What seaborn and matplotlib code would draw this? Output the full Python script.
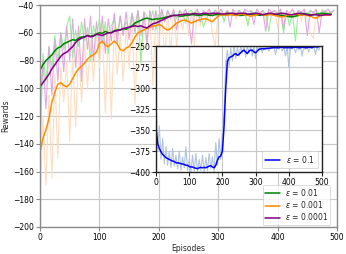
import numpy as np
import pandas as pd
import matplotlib
matplotlib.use("Agg")
import matplotlib.pyplot as plt
import seaborn as sns

# ---------------- data ----------------
STEP = 5  # episode spacing of the tabulated values

green_smooth = [-87, -83, -80, -78, -76, -73, -71, -70, -68, -67, -66, -65, -65.5, -64, -63, -63, -62, -62.5, -62, -61,
                -60, -60.5, -59, -60, -60, -58.5, -58, -58, -57, -57.5, -56, -55, -53, -52, -51, -50, -49.5, -50, -50.5, -50,
                -50, -49.5, -49, -48.5, -48, -47.5, -47.5, -48, -48, -47.5, -47.5, -47, -47, -47.5, -47.5, -47, -47, -47.5, -47.5, -47,
                -47, -47, -47, -46.5, -46.5, -47, -47, -47.5, -47.5, -47, -47, -46.5, -46.5, -47, -47.5, -47, -47, -46.5, -46.5, -47,
                -47, -47.5, -47.5, -48, -48.5, -48.5, -48, -47.5, -47, -46.5, -46.5, -47, -47, -46.5, -46.5, -46, -46, -46.5, -46.5]

purple_smooth = [-99, -96, -93, -90, -86, -83, -80, -77, -75, -74, -72, -70, -67, -65, -64, -63, -62, -63, -62.5, -61,
                 -61.5, -62, -61, -60, -60, -59, -58.5, -58, -57, -56.5, -56, -55.5, -55, -55.5, -55, -56, -56.5, -55, -53.5, -53,
                 -52, -51, -50, -49, -48, -47.5, -47.5, -47, -47, -46.5, -46.5, -46.5, -46, -46.5, -46.5, -46, -46, -46.5, -46, -46,
                 -46, -46.5, -46.5, -46, -46, -46, -46.5, -46, -46, -46, -46.5, -46.5, -46, -46, -46.5, -47, -46.5, -46, -46, -46.5,
                 -46.5, -46, -46, -46.5, -47, -47, -46.5, -46, -46, -46.5, -47, -47.5, -47, -47, -47.5, -47.5, -47, -47, -47]

orange_smooth = [-146, -136, -130, -122, -110, -103, -97, -96, -98, -99, -97, -93, -89, -86, -84, -82, -79, -77, -76, -74,
                 -68, -66, -69, -70, -68, -66, -68, -72, -73, -71, -70, -67, -63, -60, -59, -58, -57, -56, -55, -55,
                 -54, -55, -57, -58, -57, -55, -53, -52, -51, -51, -52, -53, -52, -51, -50.5, -50, -50, -51, -52, -50,
                 -48, -47, -47, -47.5, -47, -47, -47.5, -47, -46.5, -47, -47.5, -48, -47.5, -47, -46.5, -47, -47.5, -47, -47, -47.5,
                 -48, -48.5, -48.5, -47.5, -47, -47, -46.5, -47, -47.5, -47, -47.5, -48, -49, -49.5, -48, -47, -47, -47.5, -47]

green_raw = [-150, -75, -95, -70, -85, -62, -80, -60, -72, -55, -48, -78, -58, -70, -52, -66, -56, -80, -55, -63,
             -50, -68, -52, -75, -55, -50, -62, -48, -60, -52, -58, -46, -55, -44, -82, -45, -48, -52, -44, -58,
             -47, -45, -52, -44, -48, -45, -50, -44, -46, -53, -45, -44, -48, -45, -46, -56, -50, -45, -46, -44,
             -46, -45, -52, -44, -46, -45, -47, -44, -46, -45, -55, -44, -46, -45, -47, -44, -46, -59, -45, -44,
             -46, -45, -60, -45, -55, -46, -66, -44, -46, -45, -46, -44, -45, -44, -46, -45, -44, -46, -45, -44]

purple_raw = [-120, -80, -115, -70, -105, -65, -95, -60, -88, -55, -80, -50, -85, -55, -95, -50, -72, -48, -80, -52,
              -70, -48, -75, -50, -66, -46, -68, -48, -62, -45, -65, -46, -60, -44, -62, -45, -68, -44, -58, -44,
              -55, -43, -52, -44, -50, -43, -58, -44, -47, -43, -50, -68, -46, -43, -52, -44, -46, -43, -48, -44,
              -46, -43, -47, -44, -56, -43, -46, -44, -47, -43, -45, -44, -54, -43, -46, -44, -59, -43, -45, -44,
              -46, -43, -57, -44, -46, -43, -47, -44, -45, -43, -62, -44, -46, -43, -60, -44, -45, -43, -46, -44]

orange_raw = [-185, -120, -170, -105, -165, -90, -150, -85, -110, -80, -138, -75, -128, -72, -110, -68, -100, -65, -95, -60,
              -85, -55, -118, -58, -122, -55, -90, -60, -95, -55, -85, -50, -112, -48, -80, -46, -70, -45, -98, -45,
              -72, -44, -80, -45, -75, -43, -70, -44, -58, -43, -62, -44, -69, -43, -55, -44, -52, -43, -60, -70,
              -44, -43, -52, -44, -48, -43, -50, -44, -47, -43, -54, -44, -48, -43, -47, -44, -52, -43, -48, -44,
              -56, -43, -55, -44, -48, -43, -50, -44, -52, -43, -50, -60, -64, -44, -50, -43, -48, -44, -46, -43]

blue_smooth = [-348, -366, -372, -376, -379, -381, -383, -384, -385, -386, -387, -387.5, -389, -389, -389.5, -390, -390.5, -391, -392, -392,
               -393.5, -394, -394, -395, -395.5, -396, -395, -394.5, -395, -394.5, -395, -394, -393, -392.5, -394, -395, -392, -386, -382, -381,
               -375, -345, -300, -268, -264, -263, -262, -260, -259, -261, -260, -258, -256, -255, -257, -259, -256, -255, -255, -257,
               -258, -256, -254, -253.5, -253, -253.5, -253, -253, -252.5, -252.5, -252, -252, -252, -252, -252, -251.5, -251.5, -252, -252, -252,
               -252, -252, -252, -251.5, -251.5, -251.5, -252, -252, -251.5, -251.5, -252, -252, -251.5, -251.5, -252, -251, -251, -251, -251]

blue_raw = [-310, -375, -345, -385, -360, -390, -370, -392, -375, -395, -372, -393, -380, -396, -375, -398, -382, -395, -370, -398,
            -385, -400, -380, -399, -378, -400, -385, -398, -380, -400, -383, -398, -378, -396, -382, -399, -365, -392, -360, -385,
            -350, -330, -270, -255, -275, -252, -268, -250, -265, -252, -262, -250, -258, -251, -263, -250, -258, -251, -262, -250,
            -265, -251, -255, -250, -258, -251, -254, -250, -256, -251, -253, -250, -260, -251, -254, -250, -256, -251, -262, -250,
            -276, -251, -254, -250, -258, -251, -255, -250, -262, -251, -254, -250, -257, -251, -253, -250, -260, -251, -255, -250]

labels_main = [r"$\varepsilon$ = 0.01", r"$\varepsilon$ = 0.001", r"$\varepsilon$ = 0.0001"]
label_inset = r"$\varepsilon$ = 0.1"


def frame(values):
    return pd.DataFrame({"Episodes": np.arange(len(values)) * STEP, "Rewards": values})


# ---------------- style ----------------
sns.set_style("whitegrid")
plt.rcParams["font.family"] = ["DejaVu Sans"]
FS = 5.5
plt.rcParams.update({
    "font.size": FS,
    "axes.labelsize": FS,
    "xtick.labelsize": FS,
    "ytick.labelsize": FS,
    "legend.fontsize": FS,
    "grid.color": "#c8c8c8",
    "grid.linewidth": 0.8,
    "axes.edgecolor": "#8a8a8a",
    "axes.linewidth": 1.0,
    "xtick.bottom": True,
    "ytick.left": True,
    "xtick.color": "#8a8a8a",
    "ytick.color": "#8a8a8a",
    "xtick.labelcolor": "black",
    "ytick.labelcolor": "black",
    "xtick.major.size": 3,
    "ytick.major.size": 3,
    "xtick.major.pad": 1.5,
    "ytick.major.pad": 1.5,
})

fig = plt.figure(figsize=(3.46, 2.54), dpi=100)
ax = fig.add_axes([0.1156, 0.1063, 0.8584, 0.874])

# raw curves
sns.lineplot(data=frame(orange_raw), x="Episodes", y="Rewards", ax=ax, color="#ffdab9", lw=0.8, alpha=0.9)
sns.lineplot(data=frame(green_raw), x="Episodes", y="Rewards", ax=ax, color="#90ee90", lw=0.8, alpha=0.9)
sns.lineplot(data=frame(purple_raw), x="Episodes", y="Rewards", ax=ax, color="#dda0dd", lw=0.8, alpha=0.9)
# smoothed curves
sns.lineplot(data=frame(green_smooth), x="Episodes", y="Rewards", ax=ax, color="green", lw=1.1, label=labels_main[0])
sns.lineplot(data=frame(orange_smooth), x="Episodes", y="Rewards", ax=ax, color="darkorange", lw=1.1, label=labels_main[1])
sns.lineplot(data=frame(purple_smooth), x="Episodes", y="Rewards", ax=ax, color="purple", lw=1.1, label=labels_main[2])

ax.set_xlim(0, 500)
ax.set_ylim(-200, -40)
ax.set_xticks(np.arange(0, 501, 100))
ax.set_yticks(np.arange(-200, -39, 20))
ax.set_xlabel("Episodes", labelpad=1)
ax.set_ylabel("Rewards", labelpad=2)
leg = ax.legend(loc="lower right", frameon=True, borderpad=0.3, labelspacing=0.15,
                handlelength=2.0, handletextpad=0.6, borderaxespad=0.3,
                bbox_to_anchor=(0.985, 0.0))
leg.get_frame().set_edgecolor("#cccccc")
leg.get_frame().set_linewidth(0.6)

# inset
ins = fig.add_axes([0.4509, 0.3228, 0.4798, 0.496])
ins.set_facecolor("white")
sns.lineplot(data=frame(blue_raw), x="Episodes", y="Rewards", ax=ins, color="#b0c4de", lw=0.8)
sns.lineplot(data=frame(blue_smooth), x="Episodes", y="Rewards", ax=ins, color="blue", lw=1.1, label=label_inset)
ins.set_xlim(0, 500)
ins.set_ylim(-400, -250)
ins.set_xticks(np.arange(0, 501, 100))
ins.set_yticks(np.arange(-400, -249, 25))
ins.set_xlabel("")
ins.set_ylabel("")
for s in ins.spines.values():
    s.set_color("#222222")
    s.set_linewidth(1.0)
ins.tick_params(colors="#222222", labelcolor="black")
leg2 = ins.legend(loc="lower right", frameon=True, borderpad=0.4, handlelength=2.0)
leg2.get_frame().set_edgecolor("#cccccc")
leg2.get_frame().set_linewidth(0.6)

fig.savefig("out.png", dpi=100)
